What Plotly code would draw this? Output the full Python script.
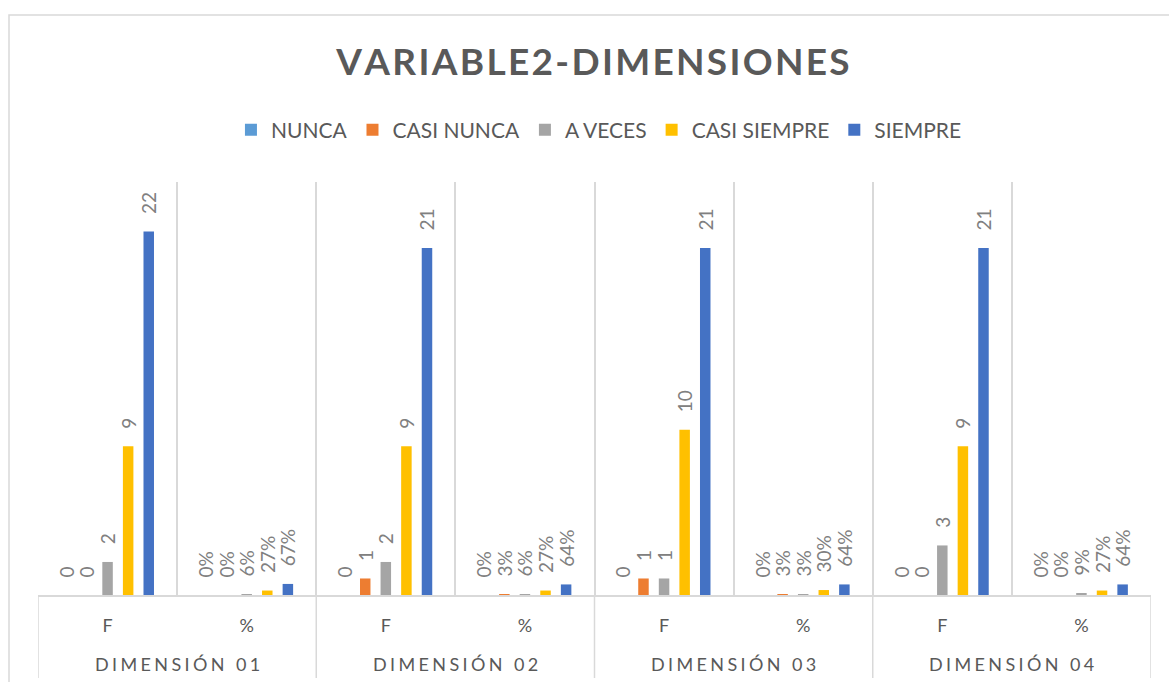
import plotly.graph_objects as go

dimensions = ["DIMENSIÓN 01", "DIMENSIÓN 02", "DIMENSIÓN 03", "DIMENSIÓN 04"]
measures = ["F", "%"]
series_names = ["NUNCA", "CASI NUNCA", "A VECES", "CASI SIEMPRE", "SIEMPRE"]
series_colors = ["#5B9BD5", "#ED7D31", "#A5A5A5", "#FFC000", "#4472C4"]

nunca_f = [0, 0, 0, 0]
nunca_pct = [0.00, 0.00, 0.00, 0.00]
casi_nunca_f = [0, 1, 1, 0]
casi_nunca_pct = [0.00, 0.03, 0.03, 0.00]
a_veces_f = [2, 2, 1, 3]
a_veces_pct = [0.06, 0.06, 0.03, 0.09]
casi_siempre_f = [9, 9, 10, 9]
casi_siempre_pct = [0.27, 0.27, 0.30, 0.27]
siempre_f = [22, 21, 21, 21]
siempre_pct = [0.67, 0.64, 0.64, 0.64]

freq_series = [nunca_f, casi_nunca_f, a_veces_f, casi_siempre_f, siempre_f]
pct_series = [nunca_pct, casi_nunca_pct, a_veces_pct, casi_siempre_pct, siempre_pct]

FONT = "Lato"
GRID = "#D9D9D9"
TXT = "#595959"
LBL = "#808080"

n_sub = len(measures)
positions = list(range(len(dimensions) * n_sub))
tick_text = [m for _ in dimensions for m in measures]

def spaced(s, sep="\u2009"):
    return sep.join(list(s))

fig = go.Figure()
for name, color, f_vals, p_vals in zip(series_names, series_colors, freq_series, pct_series):
    y = []
    txt = []
    for f, p in zip(f_vals, p_vals):
        y += [f, p]
        txt += [f"{f}", f"{round(p * 100)}%"]
    fig.add_trace(go.Bar(
        x=positions, y=y, name=name, marker=dict(color=color, line=dict(width=0)),
        text=["\u00a0\u00a0\u00a0" + t for t in txt], textposition="outside", textangle=-90,
        constraintext="none", cliponaxis=False,
        textfont=dict(family=FONT, size=19, color=LBL),
        hoverinfo="skip",
    ))

bounds = [i - 0.5 for i in range(len(positions) + 1)]
group_bounds = [i * n_sub - 0.5 for i in range(len(dimensions) + 1)]

shapes = []
for b in group_bounds:
    shapes.append(dict(type="line", xref="x", yref="paper", x0=b, x1=b, y0=0, y1=-0.201,
                       line=dict(color=GRID, width=1.5)))
# chart border
shapes.append(dict(type="rect", xref="paper", yref="paper", x0=-29 / 1113, x1=1.05, y0=-0.3,
                   y1=1 + 167 / 413, line=dict(color=GRID, width=1.5)))

annotations = []
for i, d in enumerate(dimensions):
    annotations.append(dict(x=i * n_sub + (n_sub - 1) / 2, xref="x", y=-0.167, yref="paper",
                            text=spaced(d, "\u2009\u200a"), showarrow=False, yanchor="middle",
                            font=dict(family=FONT, size=18, color=TXT)))

fig.update_layout(
    width=1169, height=682,
    margin=dict(l=38, r=18, t=182, b=87, autoexpand=False),
    paper_bgcolor="white", plot_bgcolor="white",
    barmode="group", bargap=0.26, bargroupgap=0.49,
    title=dict(text="<b>" + spaced("VARIABLE2-DIMENSIONES", "\u200a") + "</b>",
               x=593 / 1169, xanchor="center", y=1 - 62 / 682, yanchor="middle",
               font=dict(family=FONT, size=37, color=TXT)),
    legend=dict(orientation="h", x=0.504, xanchor="center", y=1 + 465 / 413 - 1, yanchor="middle",
                font=dict(family=FONT, size=21, color=TXT), traceorder="normal",
                itemclick=False, itemwidth=30),
    xaxis=dict(range=[-0.5, len(positions) - 0.5], tickmode="array", tickvals=positions,
               ticktext=tick_text, showgrid=False, zeroline=False,
               showline=True, linecolor=GRID, linewidth=1.5,
               ticks="outside", ticklen=14, tickcolor="rgba(0,0,0,0)",
               tickfont=dict(family=FONT, size=18, color=TXT),
               minor=dict(tickmode="array", tickvals=bounds, showgrid=True, gridcolor=GRID, gridwidth=1.5,
                          ticks="")),
    yaxis=dict(range=[0, 25], showgrid=False, zeroline=False, showticklabels=False, showline=False),
    shapes=shapes, annotations=annotations,
)

fig.write_html("out.html", config={"displayModeBar": False},
               post_script="document.body.style.margin='0';")
